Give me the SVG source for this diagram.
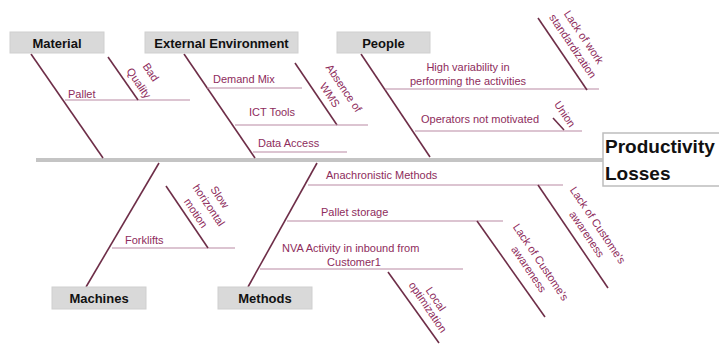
<svg xmlns="http://www.w3.org/2000/svg" width="719" height="344" viewBox="0 0 719 344">
<style>
.cat rect{fill:#d9d9d9;stroke:#cfcfcf;stroke-width:1}
.cat text{font-family:"Liberation Sans",Arial,sans-serif;font-weight:bold;font-size:13px;fill:#111;text-anchor:middle}
.bone{stroke:#6e2e48;stroke-width:1.6;fill:none}
.sub{stroke:#b98aa3;stroke-width:1.2;fill:none}
.lbl{font-family:"Liberation Sans",Arial,sans-serif;font-size:11px;fill:#8e2c5c}
.rl{font-family:"Liberation Sans",Arial,sans-serif;font-size:11px;fill:#8e2c5c;text-anchor:middle}
</style>
<rect width="719" height="344" fill="#ffffff"/>
<g id="connectors">
<line x1="36" y1="160" x2="603" y2="160" stroke="#c4c4c4" stroke-width="4"/>
<line x1="31" y1="54" x2="103" y2="158" class="bone"/>
<line x1="184" y1="54" x2="255" y2="158" class="bone"/>
<line x1="361" y1="54" x2="430" y2="157" class="bone"/>
<line x1="159" y1="163" x2="86" y2="287" class="bone"/>
<line x1="317" y1="163" x2="248" y2="287" class="bone"/>
<line x1="65" y1="100" x2="190" y2="100" class="sub"/>
<line x1="108" y1="57" x2="138" y2="100" class="bone"/>
<line x1="207" y1="88" x2="302" y2="88" class="sub"/>
<line x1="295" y1="63" x2="337" y2="125" class="bone"/>
<line x1="235" y1="125" x2="368" y2="125" class="sub"/>
<line x1="253" y1="152" x2="347" y2="152" class="sub"/>
<line x1="385" y1="89" x2="599" y2="89" class="sub"/>
<line x1="538" y1="18" x2="587" y2="90" class="bone"/>
<line x1="415" y1="131" x2="582" y2="131" class="sub"/>
<line x1="553" y1="118" x2="564" y2="130" class="bone"/>
<line x1="112" y1="248" x2="235" y2="248" class="sub"/>
<line x1="166" y1="186" x2="208" y2="248" class="bone"/>
<line x1="308" y1="185" x2="563" y2="185" class="sub"/>
<line x1="538" y1="185" x2="608" y2="288" class="bone"/>
<line x1="287" y1="221" x2="503" y2="221" class="sub"/>
<line x1="477" y1="221" x2="545" y2="317" class="bone"/>
<line x1="260" y1="269" x2="463" y2="269" class="sub"/>
<line x1="388" y1="272" x2="439" y2="343" class="bone"/>
</g>
<g id="effect">
<rect x="603" y="133" width="125" height="53" fill="#ffffff" stroke="#bdbdbd" stroke-width="1.5"/>
<text x="605" y="153" font-family="'Liberation Sans',Arial,sans-serif" font-weight="bold" font-size="19px" fill="#111">Productivity</text>
<text x="605" y="180" font-family="'Liberation Sans',Arial,sans-serif" font-weight="bold" font-size="19px" fill="#111">Losses</text>
</g>
<g id="material" class="cat"><rect x="10" y="32" width="94" height="21"/><text x="57" y="48">Material</text></g>
<g id="external-environment" class="cat"><rect x="145" y="32" width="153" height="21"/><text x="221.5" y="48">External Environment</text></g>
<g id="people" class="cat"><rect x="337" y="32" width="93" height="21"/><text x="383.5" y="48">People</text></g>
<g id="machines" class="cat"><rect x="52" y="287" width="94" height="22"/><text x="99" y="303">Machines</text></g>
<g id="methods" class="cat"><rect x="218" y="287" width="94" height="22"/><text x="265" y="303">Methods</text></g>
<g id="labels">
<text class="lbl" x="68" y="98">Pallet</text>
<text class="lbl" x="213" y="83">Demand Mix</text>
<text class="lbl" x="249" y="116">ICT Tools</text>
<text class="lbl" x="258" y="147">Data Access</text>
<text class="rl" x="468" y="71">High variability in</text>
<text class="rl" x="468" y="85">performing the activities</text>
<text class="lbl" x="421" y="123">Operators not motivated</text>
<text class="lbl" x="125" y="244">Forklifts</text>
<text class="lbl" x="326" y="179">Anachronistic Methods</text>
<text class="lbl" x="321" y="216">Pallet storage</text>
<text class="lbl" x="282" y="252">NVA Activity in inbound from</text>
<text class="rl" x="354" y="266">Customer1</text>
<text class="rl" transform="translate(151,72) rotate(56)" y="4">Bad</text>
<text class="rl" transform="translate(139,83) rotate(56)" y="4">Quality</text>
<text class="rl" transform="translate(344,88) rotate(56)" y="4">Absence of</text>
<text class="rl" transform="translate(330,95) rotate(56)" y="4">WMS</text>
<text class="rl" transform="translate(584,37) rotate(56)" y="4">Lack of work</text>
<text class="rl" transform="translate(573,46) rotate(56)" y="4">standardization</text>
<text class="rl" transform="translate(565,114) rotate(56)" y="4">Union</text>
<text class="rl" transform="translate(220,197) rotate(56)" y="4">Slow</text>
<text class="rl" transform="translate(209,205) rotate(56)" y="4">horizontal</text>
<text class="rl" transform="translate(196,213) rotate(56)" y="4">motion</text>
<text class="rl" transform="translate(598,225) rotate(56)" y="4">Lack of Custome's</text>
<text class="rl" transform="translate(587,234) rotate(56)" y="4">awareness</text>
<text class="rl" transform="translate(541,262) rotate(56)" y="4">Lack of Custome's</text>
<text class="rl" transform="translate(529,269) rotate(56)" y="4">awareness</text>
<text class="rl" transform="translate(436,299) rotate(56)" y="4">Local</text>
<text class="rl" transform="translate(428,307) rotate(56)" y="4">optimization</text>
</g>
</svg>
